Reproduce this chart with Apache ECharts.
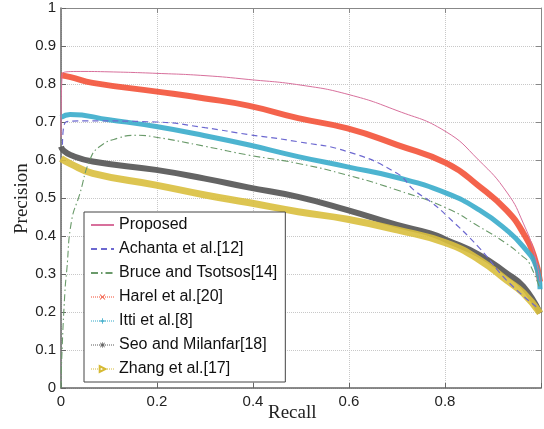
<!DOCTYPE html>
<html><head><meta charset="utf-8">
<script src="https://cdn.jsdelivr.net/npm/echarts@6/dist/echarts.min.js"></script>
<style>html,body{margin:0;padding:0;background:#fff}#c{width:544px;height:429px}</style>
</head><body><div id="c"></div>
<script>
const names = ['Proposed','Achanta et al.[12]','Bruce and Tsotsos[14]','Harel et al.[20]','Itti et al.[8]','Seo and Milanfar[18]','Zhang et al.[17]'];
const xTicks = [0,0.2,0.4,0.6,0.8,1];
const yTicks = [0,0.1,0.2,0.3,0.4,0.5,0.6,0.7,0.8,0.9,1];

const proposedR = [0,0.003,0.04,0.1,0.2,0.3,0.39,0.5,0.6,0.7,0.8,0.87,0.93,0.963,0.986,0.998];
const proposedP = [0.66,0.828,0.833,0.832,0.828,0.822,0.812,0.797,0.772,0.73,0.676,0.6,0.513,0.434,0.355,0.28];

const achantaR = [0.003,0.01,0.05,0.198,0.3,0.39,0.494,0.597,0.7,0.736,0.77,0.804,0.872,0.928,0.99];
const achantaP = [0.64,0.70,0.703,0.70,0.685,0.667,0.648,0.622,0.565,0.52,0.49,0.453,0.368,0.284,0.214];

const bruceR = [0,0.0014,0.008,0.012,0.022,0.039,0.06,0.08,0.12,0.156,0.198,0.3,0.39,0.494,0.597,0.7,0.804,0.872,0.928,0.963,0.975,0.998];
const bruceP = [0,0.074,0.25,0.31,0.44,0.51,0.6,0.635,0.658,0.665,0.66,0.636,0.613,0.591,0.56,0.521,0.473,0.424,0.38,0.345,0.33,0.26];

const harelR = [0,0.02,0.066,0.2,0.3,0.39,0.494,0.597,0.7,0.804,0.872,0.928,0.963,0.986,0.998];
const harelP = [0.823,0.818,0.803,0.78,0.762,0.743,0.71,0.683,0.64,0.591,0.53,0.468,0.408,0.345,0.28];

const ittiR = [0,0.019,0.1,0.198,0.3,0.39,0.494,0.597,0.7,0.804,0.872,0.928,0.963,0.99,0.998];
const ittiP = [0.712,0.72,0.706,0.688,0.664,0.64,0.609,0.582,0.554,0.512,0.468,0.416,0.372,0.32,0.26];

const seoR = [0,0.005,0.02,0.066,0.198,0.3,0.39,0.494,0.597,0.7,0.769,0.804,0.872,0.928,0.963,0.998];
const seoP = [0.635,0.625,0.613,0.596,0.574,0.551,0.528,0.503,0.468,0.429,0.407,0.389,0.35,0.302,0.267,0.197];

const zhangR = [0,0.02,0.066,0.198,0.3,0.39,0.494,0.597,0.7,0.804,0.872,0.928,0.963,0.998];
const zhangP = [0.604,0.59,0.565,0.534,0.508,0.488,0.464,0.444,0.416,0.381,0.337,0.284,0.25,0.197];

const pairs = (r,p) => r.map((v,i)=>[v,p[i]]);
const colors = ['#d8709c','#6c68d0','#6a9a6a','#f24a30','#33a8c8','#5a5a5a','#d6ba34'];
const symX = 'path://M0,1L1,0L5,4L9,0L10,1L6,5L10,9L9,10L5,6L1,10L0,9L4,5Z';
const symPlus = 'path://M4.3,0H5.7V4.3H10V5.7H5.7V10H4.3V5.7H0V4.3H4.3Z';
const symStar = 'path://M4.4,0H5.6V3.6L8.6,0.7L9.4,1.5L6.4,4.4H10V5.6H6.4L9.4,8.5L8.6,9.3L5.6,6.4V10H4.4V6.4L1.4,9.3L0.6,8.5L3.6,5.6H0V4.4H3.6L0.6,1.5L1.4,0.7L4.4,3.6Z';

const chart = echarts.init(document.getElementById('c'));
function lineSeries(i, data, type, width, symbol, extra) {
  return Object.assign({
    name: names[i], type: 'line', data: data, smooth: 0.5,
    symbol: symbol, showSymbol: false, symbolRotate: 0,
    lineStyle: {color: colors[i], width: width, type: type},
    itemStyle: {color: colors[i]}, animation: false, z: 3
  }, extra || {});
}
const series = [
  lineSeries(0, pairs(proposedR, proposedP), 'solid', 1, 'circle', {z: 7}),
  lineSeries(1, pairs(achantaR, achantaP), [6,4], 1.2, 'circle', {z: 6}),
  lineSeries(2, pairs(bruceR, bruceP), [7,3,1.5,3], 1.1, 'circle', {z: 5}),
  lineSeries(3, pairs(harelR, harelP), 'solid', 6, symX, {lineStyle:{color:'#f35238',width:6,opacity:0.9}}),
  lineSeries(4, pairs(ittiR, ittiP), 'solid', 5, symPlus, {lineStyle:{color:'#3aaccb',width:5,opacity:0.9}}),
  lineSeries(5, pairs(seoR, seoP), 'solid', 6, symStar, {lineStyle:{color:'#5c5c5c',width:6,opacity:0.95}}),
  lineSeries(6, pairs(zhangR, zhangP), 'solid', 7, 'emptyTriangle', {symbolRotate: -90, lineStyle:{color:'#d9bf3e',width:7,opacity:0.9}})
];
const labelStyle = {color:'#222', fontFamily:'Liberation Sans, Arial, sans-serif', fontSize:15};
const legendData = names.map((n,i)=>{
  const d = {name: n};
  if (i >= 3) {
    d.lineStyle = {type:'dotted', width:1, color: colors[i], opacity:1};
    d.itemStyle = {color: colors[i]};
  } else {
    d.itemStyle = {color:'rgba(0,0,0,0)', borderWidth:0, opacity:0};
  }
  return d;
});
chart.setOption({
  animation: false,
  backgroundColor: '#fff',
  grid: {left: 61, right: 1, top: 8, bottom: 41, show: false},
  legend: {
    data: legendData, orient: 'vertical', left: 84, top: 212, width: 195,
    backgroundColor: '#fff', borderColor: '#444', borderWidth: 1,
    padding: [5, 8, 5, 6], itemWidth: 23, itemHeight: 7, itemGap: 8,
    textStyle: {fontFamily:'Liberation Sans, Arial, sans-serif', fontSize:16, color:'#111', lineHeight:16, padding:[0,0,0,0]},
    selectedMode: false, z: 20
  },
  xAxis: [
    {type:'value', min:0, max:1, interval:0.2, position:'bottom',
     axisLine:{show:true, onZero:false, lineStyle:{color:'#666', width:1.5}},
     axisTick:{show:true, inside:true, length:5, lineStyle:{color:'#666'}},
     axisLabel: Object.assign({margin:6, formatter: v => (v>=1 ? '' : String(+v.toFixed(1)))}, labelStyle),
     splitLine:{show:true, lineStyle:{type:'dotted', color:'#c8c8c8', width:1}}},
    {type:'value', min:0, max:1, interval:0.2, position:'top',
     axisLine:{show:true, onZero:false, lineStyle:{color:'#888', width:1}},
     axisTick:{show:true, inside:true, length:5, lineStyle:{color:'#888'}},
     axisLabel:{show:false}, splitLine:{show:false}}
  ],
  yAxis: [
    {type:'value', min:0, max:1, interval:0.1, position:'left',
     axisLine:{show:true, onZero:false, lineStyle:{color:'#666', width:1.5}},
     axisTick:{show:true, inside:true, length:5, lineStyle:{color:'#666'}},
     axisLabel: Object.assign({margin:5, formatter: v => String(+v.toFixed(1))}, labelStyle),
     splitLine:{show:true, lineStyle:{type:'dotted', color:'#c8c8c8', width:1}}},
    {type:'value', min:0, max:1, interval:0.1, position:'right',
     axisLine:{show:true, onZero:false, lineStyle:{color:'#888', width:1}},
     axisTick:{show:true, inside:true, length:5, lineStyle:{color:'#888'}},
     axisLabel:{show:false}, splitLine:{show:false}}
  ],
  graphic: [
    {type:'text', left: 268, top: 404, style:{text:'Recall', fontFamily:'Liberation Serif, Times New Roman, serif', fontSize:19, fill:'#222'}},
    {type:'text', x: 13, y: 234, rotation: Math.PI/2, style:{text:'Precision', fontFamily:'Liberation Serif, Times New Roman, serif', fontSize:19, fill:'#222', textVerticalAlign:'top'}}
  ],
  series: series
});
</script></body></html>
